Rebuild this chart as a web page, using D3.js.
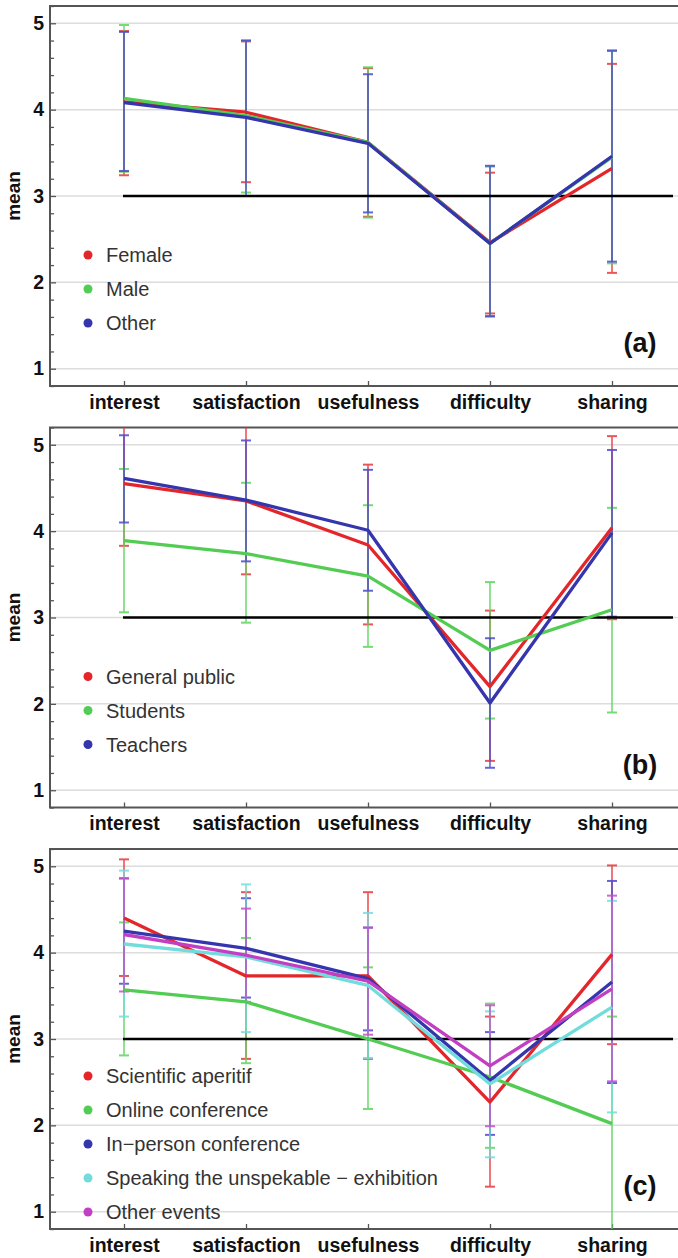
<!DOCTYPE html>
<html>
<head>
<meta charset="utf-8">
<script src="https://cdn.jsdelivr.net/npm/d3@7"></script>
<style>
  body { margin: 0; background: #fff; }
  svg { display: block; font-family: "Liberation Sans", Arial, sans-serif; }
</style>
</head>
<body>
<div id="content"></div>
<script>
var Width = 678;
var Height = 1258;

// categories and ticks
var categories = ["interest", "satisfaction", "usefulness", "difficulty", "sharing"];
var yTicks = [1, 2, 3, 4, 5];
var panelLabels = ["(a)", "(b)", "(c)"];

// panel (a): gender
var femaleMean = [4.09, 3.97, 3.62, 2.46, 3.32];
var femaleLow  = [3.24, 3.16, 2.76, 1.64, 2.11];
var femaleHigh = [4.91, 4.79, 4.48, 3.27, 4.53];
var maleMean = [4.13, 3.93, 3.62, 2.45, 3.45];
var maleLow  = [3.28, 3.04, 2.75, 1.60, 2.22];
var maleHigh = [4.98, 4.80, 4.49, 3.34, 4.69];
var otherMean = [4.08, 3.91, 3.61, 2.45, 3.46];
var otherLow  = [3.29, 3.00, 2.81, 1.61, 2.24];
var otherHigh = [4.90, 4.80, 4.41, 3.35, 4.68];

// panel (b): audience
var publicMean = [4.55, 4.35, 3.84, 2.20, 4.04];
var publicLow  = [3.83, 3.50, 2.92, 1.34, 2.98];
var publicHigh = [5.27, 5.22, 4.77, 3.08, 5.10];
var studentMean = [3.89, 3.74, 3.48, 2.62, 3.09];
var studentLow  = [3.06, 2.94, 2.66, 1.83, 1.90];
var studentHigh = [4.72, 4.56, 4.30, 3.41, 4.27];
var teacherMean = [4.61, 4.36, 4.01, 2.01, 3.98];
var teacherLow  = [4.10, 3.65, 3.31, 1.26, 3.01];
var teacherHigh = [5.11, 5.05, 4.71, 2.76, 4.94];

// panel (c): events
var aperitifMean = [4.40, 3.73, 3.73, 2.27, 3.98];
var aperitifLow  = [3.73, 2.77, 2.77, 1.29, 2.94];
var aperitifHigh = [5.08, 4.70, 4.70, 3.26, 5.01];
var onlineMean = [3.57, 3.43, 3.00, 2.56, 2.02];
var onlineLow  = [2.81, 2.72, 2.19, 1.74, 0.70];
var onlineHigh = [4.35, 4.17, 3.83, 3.41, 3.26];
var inpersonMean = [4.25, 4.05, 3.70, 2.52, 3.66];
var inpersonLow  = [3.64, 3.48, 3.10, 1.89, 2.49];
var inpersonHigh = [4.86, 4.63, 4.29, 3.08, 4.83];
var exhibitMean = [4.10, 3.95, 3.62, 2.48, 3.37];
var exhibitLow  = [3.26, 3.08, 2.78, 1.63, 2.15];
var exhibitHigh = [4.95, 4.79, 4.46, 3.32, 4.60];
var eventsMean = [4.21, 3.97, 3.67, 2.69, 3.58];
var eventsLow  = [3.55, 3.43, 3.05, 1.99, 2.51];
var eventsHigh = [4.86, 4.51, 4.29, 3.39, 4.66];

var RED = "#e4262a", GREEN = "#52cc52", BLUE = "#3535ad", CYAN = "#72dcdc", MAGENTA = "#c23fc4";
// error bars are drawn a bit lighter than the mean lines
var barColor = { };
barColor[RED] = "#e8383c"; barColor[GREEN] = "#5cd65c"; barColor[BLUE] = "#4a4ad2";
barColor[CYAN] = "#72dede"; barColor[MAGENTA] = "#c84ccc";

var panels = [
  {
    top: 6, legendTop: 255,
    series: [
      { name: "Female", color: RED, mean: femaleMean, low: femaleLow, high: femaleHigh },
      { name: "Male", color: GREEN, mean: maleMean, low: maleLow, high: maleHigh },
      { name: "Other", color: BLUE, mean: otherMean, low: otherLow, high: otherHigh }
    ]
  },
  {
    top: 427.5, legendTop: 676.5,
    series: [
      { name: "General public", color: RED, mean: publicMean, low: publicLow, high: publicHigh },
      { name: "Students", color: GREEN, mean: studentMean, low: studentLow, high: studentHigh },
      { name: "Teachers", color: BLUE, mean: teacherMean, low: teacherLow, high: teacherHigh }
    ]
  },
  {
    top: 849, legendTop: 1076,
    series: [
      { name: "Scientific aperitif", color: RED, mean: aperitifMean, low: aperitifLow, high: aperitifHigh },
      { name: "Online conference", color: GREEN, mean: onlineMean, low: onlineLow, high: onlineHigh },
      { name: "In\u2212person conference", color: BLUE, mean: inpersonMean, low: inpersonLow, high: inpersonHigh },
      { name: "Speaking the unspekable \u2212 exhibition", color: CYAN, mean: exhibitMean, low: exhibitLow, high: exhibitHigh },
      { name: "Other events", color: MAGENTA, mean: eventsMean, low: eventsLow, high: eventsHigh }
    ]
  }
];

var left = 50, right = 690, panelH = 380;

var svg = d3.select("#content").append("svg")
  .attr("width", Width)
  .attr("height", Height);

var x = d3.scalePoint().domain(categories).range([124, 612]);

panels.forEach(function (p, pi) {
  var g = svg.append("g").attr("transform", "translate(0," + p.top + ")");
  var y = d3.scaleLinear().domain([0.8, 5.2]).range([panelH, 0]);

  g.append("clipPath").attr("id", "clip" + pi)
    .append("rect").attr("x", left).attr("y", 0).attr("width", right - left).attr("height", panelH);

  // gridlines
  g.selectAll(".grid").data(yTicks).enter().append("line")
    .attr("x1", left).attr("x2", right)
    .attr("y1", function (d) { return y(d); })
    .attr("y2", function (d) { return y(d); })
    .attr("stroke", "#dcdcdc").attr("stroke-width", 1.5);

  // minor ticks
  var minor = d3.range(0.8, 5.21, 0.2).filter(function (v) { return Math.abs(v - Math.round(v)) > 0.01; });
  g.append("g").attr("transform", "translate(" + left + ",0)")
    .call(d3.axisLeft(y).tickValues(minor).tickSize(-4).tickFormat(""))
    .call(function (s) { s.select(".domain").remove(); s.selectAll("line").attr("stroke", "#555").attr("stroke-width", 1.3); });

  // y axis
  var yAxis = g.append("g").attr("transform", "translate(" + left + ",0)")
    .call(d3.axisLeft(y).tickValues(yTicks).tickSize(-6).tickPadding(6).tickFormat(d3.format("d")));
  yAxis.select(".domain").remove();
  yAxis.selectAll("line").attr("stroke", "#555").attr("stroke-width", 1.3);
  yAxis.selectAll("text").attr("font-size", 19.5).attr("font-weight", "bold").attr("fill", "#111")
    .attr("font-family", "Liberation Sans, Arial, sans-serif");

  // x axis
  var xAxis = g.append("g").attr("transform", "translate(0," + panelH + ")")
    .call(d3.axisBottom(x).tickSize(-5).tickPadding(9));
  xAxis.select(".domain").remove();
  xAxis.selectAll("line").attr("stroke", "#555").attr("stroke-width", 1.3);
  xAxis.selectAll("text").attr("font-size", 19.5).attr("font-weight", "bold").attr("fill", "#111")
    .attr("font-family", "Liberation Sans, Arial, sans-serif");

  // frame
  g.append("path")
    .attr("d", "M" + right + ",0H" + left + "V" + panelH + "H" + right)
    .attr("fill", "none").attr("stroke", "#555").attr("stroke-width", 2);

  // y label
  g.append("text")
    .attr("transform", "translate(20," + (panelH / 2) + ") rotate(-90)")
    .attr("text-anchor", "middle")
    .attr("font-size", 19).attr("font-weight", "bold").attr("fill", "#111")
    .text("mean");

  var plot = g.append("g").attr("clip-path", "url(#clip" + pi + ")");

  // error bars
  p.series.forEach(function (s) {
    var eb = plot.append("g").attr("stroke", barColor[s.color]).attr("opacity", 0.85);
    eb.selectAll(".bar").data(categories).enter().append("line")
      .attr("x1", function (d) { return x(d); })
      .attr("x2", function (d) { return x(d); })
      .attr("y1", function (d, i) { return y(s.low[i]); })
      .attr("y2", function (d, i) { return y(s.high[i]); })
      .attr("stroke-width", 1.6);
    ["low", "high"].forEach(function (k) {
      eb.selectAll(".cap" + k).data(categories).enter().append("line")
        .attr("x1", function (d) { return x(d) - 5; })
        .attr("x2", function (d) { return x(d) + 5; })
        .attr("y1", function (d, i) { return y(s[k][i]); })
        .attr("y2", function (d, i) { return y(s[k][i]); })
        .attr("stroke-width", 2);
    });
  });

  // reference line at 3
  plot.append("line")
    .attr("x1", x(categories[0]) - 1).attr("x2", 673)
    .attr("y1", y(3)).attr("y2", y(3))
    .attr("stroke", "#000").attr("stroke-width", 2.5);

  // mean lines
  var line = d3.line()
    .x(function (d, i) { return x(categories[i]); })
    .y(function (d) { return y(d); });
  p.series.forEach(function (s) {
    plot.append("path").datum(s.mean)
      .attr("d", line)
      .attr("fill", "none")
      .attr("stroke", s.color)
      .attr("stroke-width", 3.3)
      .attr("stroke-linejoin", "round");
  });

  // legend
  var lg = svg.append("g").attr("transform", "translate(0," + p.legendTop + ")");
  p.series.forEach(function (s, i) {
    lg.append("circle").attr("cx", 88).attr("cy", i * 34).attr("r", 4.5).attr("fill", s.color);
    lg.append("text").attr("x", 106).attr("y", i * 34).attr("dy", "0.35em")
      .attr("font-size", 20).attr("fill", "#333").text(s.name);
  });

  // panel label
  g.append("text")
    .attr("x", 640).attr("y", 337)
    .attr("dy", "0.35em")
    .attr("text-anchor", "middle")
    .attr("font-size", 27).attr("font-weight", "bold").attr("fill", "#111")
    .text(panelLabels[pi]);
});
</script>
</body>
</html>
